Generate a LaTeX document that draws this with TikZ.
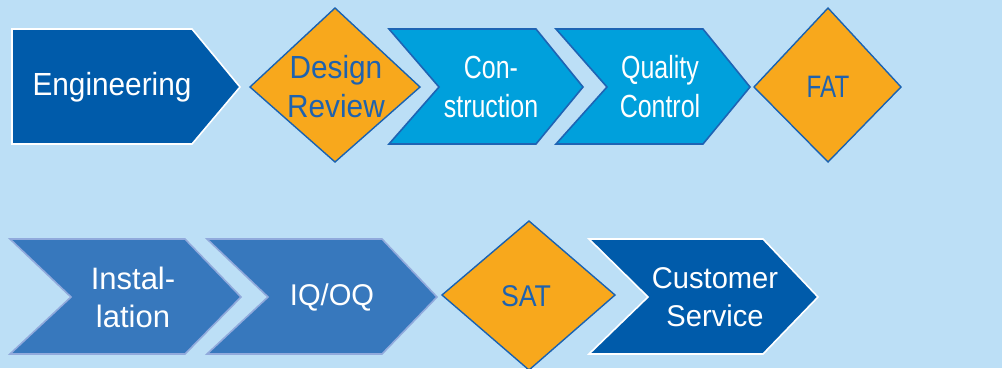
\documentclass[tikz,border=0pt]{standalone}
\usepackage{fontspec}
\setmainfont{Liberation Sans}
\newfontfamily\fnorm{Liberation Sans}
\newfontfamily\fsa[FakeStretch=0.93]{Liberation Sans}
\newfontfamily\fsb[FakeStretch=0.78]{Liberation Sans}
\newfontfamily\fsc[FakeStretch=0.89]{Liberation Sans}
\newfontfamily\fsd[FakeStretch=0.97]{Liberation Sans}
\definecolor{bgblue}{RGB}{188,223,246}
\definecolor{navy}{RGB}{0,91,170}
\definecolor{cyanb}{RGB}{0,160,220}
\definecolor{cyanedge}{RGB}{30,100,180}
\definecolor{midblue}{RGB}{55,120,189}
\definecolor{midedge}{RGB}{145,170,220}
\definecolor{orangef}{RGB}{248,168,28}
\definecolor{diaedge}{RGB}{25,98,178}
\definecolor{diatext}{RGB}{30,98,175}
\tikzset{
  navyshape/.style={fill=navy, draw=white, line width=1.6pt, line join=miter},
  cyanshape/.style={fill=cyanb, draw=cyanedge, line width=1.6pt, line join=miter},
  midshape/.style={fill=midblue, draw=midedge, line width=1.6pt, line join=miter},
  diashape/.style={fill=orangef, draw=diaedge, line width=1.4pt, line join=miter},
  toplabel/.style={text=white, align=center, font=\fontsize{32}{39}\selectfont, inner sep=0pt},
  botlabel/.style={text=white, align=center, font=\fontsize{30}{38}\selectfont, inner sep=0pt},
  dialabel/.style={text=diatext, align=center, inner sep=0pt}
}
\begin{document}
\begin{tikzpicture}[x=1pt,y=-1pt]
\fill[bgblue] (0,0) rectangle (1002,368);
\useasboundingbox (0,0) rectangle (1002,368);
% Row 1
\draw[navyshape] (12,29) -- (192,29) -- (240,87) -- (192,144) -- (12,144) -- cycle;
\node[toplabel, font=\fsa\fontsize{32}{39}\selectfont] (eng) at (112,87) {Engineering};
\draw[diashape] (250,87) -- (335,8) -- (420,87) -- (335,162) -- cycle;
\node[dialabel, font=\fsa\fontsize{32}{39}\selectfont] (dr) at (336,87) {Design\\Review};
\draw[cyanshape] (389,29) -- (536,29) -- (583,87) -- (536,144) -- (389,144) -- (439,87) -- cycle;
\node[toplabel, font=\fsb\fontsize{32}{39}\selectfont] (con) at (491,87) {Con-\\struction};
\draw[cyanshape] (556,29) -- (703,29) -- (750,87) -- (703,144) -- (556,144) -- (607,87) -- cycle;
\node[toplabel, font=\fsb\fontsize{32}{39}\selectfont] (qc) at (660,87) {Quality\\Control};
\draw[diashape] (754,87) -- (828,8) -- (901,87) -- (828,162) -- cycle;
\node[dialabel, font=\fsb\fontsize{31}{38}\selectfont] (fat) at (828,87) {FAT};
% Row 2
\draw[midshape] (10,239) -- (185,239) -- (241,297) -- (185,354) -- (10,354) -- (71,297) -- cycle;
\node[botlabel, font=\fnorm\fontsize{31}{38}\selectfont] (inst) at (133,297) {Instal-\\lation};
\draw[midshape] (207,239) -- (382,239) -- (437,297) -- (382,354) -- (207,354) -- (268,297) -- cycle;
\node[botlabel, font=\fsd\fontsize{30}{38}\selectfont] (iq) at (332,297) {IQ/OQ};
\draw[diashape] (442,295) -- (529,221) -- (615,295) -- (529,370) -- cycle;
\node[dialabel, font=\fsc\fontsize{30}{38}\selectfont] (sat) at (526,296) {SAT};
\draw[navyshape] (589,239) -- (763,239) -- (818,297) -- (763,354) -- (589,354) -- (648,297) -- cycle;
\node[botlabel, font=\fsd\fontsize{30}{38}\selectfont] (cs) at (715,297) {Customer\\Service};
\end{tikzpicture}
\end{document}
